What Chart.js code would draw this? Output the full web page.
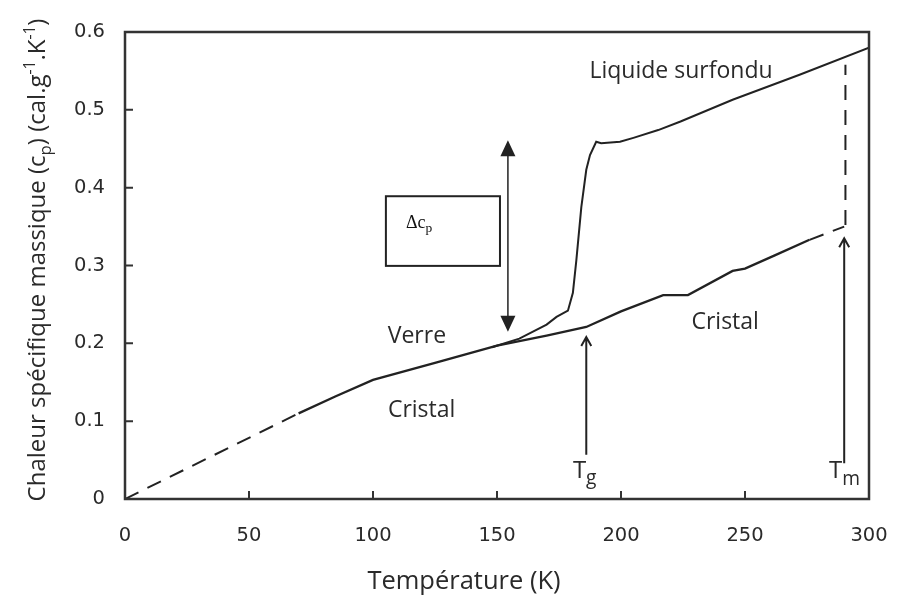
<!DOCTYPE html>
<html>
<head>
<meta charset="utf-8">
<script src="https://cdn.jsdelivr.net/npm/chart.js@4.4.1/dist/chart.umd.min.js"></script>
<style>
  body { margin: 0; background: #fff; overflow: hidden; }
</style>
</head>
<body>
<canvas id="cpChart" width="902" height="599"></canvas>
<script>
// Data (temperature in K, cp in cal/g/K)
const crystalLowT = [0, 70];
const crystalLowCp = [0, 0.110];

const crystalT = [70, 85, 100, 125, 150, 170, 186, 200, 217, 227, 245, 250, 262, 276];
const crystalCp = [0.110, 0.132, 0.153, 0.175, 0.197, 0.210, 0.221, 0.241, 0.262, 0.262, 0.293, 0.296, 0.313, 0.333];

const crystalHighT = [276, 290];
const crystalHighCp = [0.333, 0.350];

const liquidT = [148, 159, 170, 174, 178.6, 180.6, 182, 184, 186, 187.5, 190, 192, 199.6, 205, 215, 224, 245, 272, 300];
const liquidCp = [0.195, 0.206, 0.224, 0.234, 0.242, 0.265, 0.307, 0.375, 0.423, 0.442, 0.459, 0.457, 0.459, 0.464, 0.474, 0.485, 0.513, 0.545, 0.580];

const meltT = [290.5, 290.5];
const meltCp = [0.352, 0.558];

const xTicks = [0, 50, 100, 150, 200, 250, 300];
const yTicks = [0, 0.1, 0.2, 0.3, 0.4, 0.5, 0.6];

const toPoints = (xs, ys) => xs.map((x, i) => ({ x: x, y: ys[i] }));

const INK = '#222';
const TEXT = '#2a2a2a';
const SANS = '"Open Sans", "Noto Sans", sans-serif';
const TICK_FONT = { family: '"DejaVu Sans", "Liberation Sans", sans-serif', size: 19.5 };

// draws text made of pieces, some raised or lowered
function drawRich(ctx, parts, x, y, size) {
  let cx = x;
  parts.forEach(p => {
    const s = size * (p.scale || 1);
    ctx.font = `${s}px ${p.family || SANS}`;
    ctx.fillText(p.t, cx, y + (p.dy || 0) * size);
    cx += ctx.measureText(p.t).width;
  });
  return cx - x;
}

function richWidth(ctx, parts, size) {
  let w = 0;
  parts.forEach(p => {
    ctx.font = `${size * (p.scale || 1)}px ${p.family || SANS}`;
    w += ctx.measureText(p.t).width;
  });
  return w;
}

function filledHead(ctx, x, y, dir, w, h) {
  ctx.beginPath();
  ctx.moveTo(x, y);
  ctx.lineTo(x - w / 2, y + dir * h);
  ctx.lineTo(x + w / 2, y + dir * h);
  ctx.closePath();
  ctx.fill();
}

const decorations = {
  id: 'decorations',
  afterDraw(chart) {
    const ctx = chart.ctx;
    const a = chart.chartArea;
    const xs = chart.scales.x, ys = chart.scales.y;
    const px = v => xs.getPixelForValue(v);
    const py = v => ys.getPixelForValue(v);

    ctx.save();
    // frame
    ctx.strokeStyle = '#333';
    ctx.lineWidth = 2.5;
    ctx.strokeRect(a.left, a.top, a.right - a.left, a.bottom - a.top);

    // inward ticks
    ctx.lineWidth = 2;
    ctx.beginPath();
    xTicks.slice(1, -1).forEach(t => {
      ctx.moveTo(px(t), a.bottom);
      ctx.lineTo(px(t), a.bottom - 8);
    });
    yTicks.slice(1, -1).forEach(t => {
      ctx.moveTo(a.left, py(t));
      ctx.lineTo(a.left + 8, py(t));
    });
    ctx.stroke();

    // delta cp box
    ctx.strokeStyle = INK;
    ctx.lineWidth = 2;
    ctx.strokeRect(px(105.2), py(0.389), px(151.2) - px(105.2), py(0.2995) - py(0.389));
    ctx.fillStyle = '#111';
    ctx.textAlign = 'left';
    ctx.textBaseline = 'alphabetic';
    drawRich(ctx, [
      { t: '\u0394c', family: '"Liberation Serif", "DejaVu Serif", serif' },
      { t: 'p', family: '"Liberation Serif", "DejaVu Serif", serif', scale: 0.75, dy: 0.2 }
    ], px(113.3), py(0.348), 18);

    // double arrow for delta cp
    ctx.fillStyle = INK;
    ctx.strokeStyle = INK;
    ctx.lineWidth = 1.5;
    const dx = px(154.4), dTop = py(0.461), dBot = py(0.215);
    ctx.beginPath();
    ctx.moveTo(dx, dTop + 10);
    ctx.lineTo(dx, dBot - 10);
    ctx.stroke();
    filledHead(ctx, dx, dTop, 1, 15, 16);
    filledHead(ctx, dx, dBot, -1, 15, 16);

    // Tg and Tm arrows (open heads)
    [[186, 0.057, 0.208], [290, 0.046, 0.335]].forEach(([t, from, to]) => {
      const x = px(t), y0 = py(from), y1 = py(to);
      ctx.lineWidth = 2;
      ctx.beginPath();
      ctx.moveTo(x, y0);
      ctx.lineTo(x, y1 + 1);
      ctx.moveTo(x - 5, y1 + 9);
      ctx.lineTo(x, y1);
      ctx.lineTo(x + 5, y1 + 9);
      ctx.stroke();
    });

    // curve labels
    ctx.fillStyle = TEXT;
    ctx.textAlign = 'center';
    ctx.font = `23px ${SANS}`;
    ctx.fillText('Liquide surfondu', px(224.2), py(0.541));
    ctx.fillText('Verre', px(117.7), py(0.2005));
    ctx.fillText('Cristal', px(119.6), py(0.105));
    ctx.fillText('Cristal', px(242), py(0.2185));

    ctx.textAlign = 'left';
    drawRich(ctx, [{ t: 'T' }, { t: 'g', scale: 0.8, dy: 0.25 }], px(180.6), py(0.027), 24);
    drawRich(ctx, [{ t: 'T' }, { t: 'm', scale: 0.8, dy: 0.3 }], px(283.9), py(0.027), 24);

    // axis titles
    ctx.font = `25.5px ${SANS}`;
    ctx.textAlign = 'center';
    ctx.fillText('Temp\u00e9rature (K)', 464, 589);

    const yTitle = [
      { t: 'Chaleur sp\u00e9cifique massique (c' },
      { t: 'p', scale: 0.7, dy: 0.25 },
      { t: ') (cal.g' },
      { t: '-1', scale: 0.65, dy: -0.4 },
      { t: '.K' },
      { t: '-1', scale: 0.65, dy: -0.4 },
      { t: ')' }
    ];
    const ySize = 24;
    const w = richWidth(ctx, yTitle, ySize);
    ctx.translate(45, 260);
    ctx.rotate(-Math.PI / 2);
    ctx.textAlign = 'left';
    drawRich(ctx, yTitle, -w / 2, 0, ySize);
    ctx.restore();
  }
};

const lineStyle = { showLine: true, pointRadius: 0, borderColor: INK, borderWidth: 2, tension: 0, fill: false };

new Chart('cpChart', {
  type: 'scatter',
  data: {
    datasets: [
      { ...lineStyle, data: toPoints(crystalLowT, crystalLowCp), borderDash: [15, 10] },
      { ...lineStyle, data: toPoints(crystalT, crystalCp), borderWidth: 2.3 },
      { ...lineStyle, data: toPoints(crystalHighT, crystalHighCp), borderDash: [15, 10] },
      { ...lineStyle, data: toPoints(liquidT, liquidCp) },
      { ...lineStyle, data: toPoints(meltT, meltCp), borderDash: [15, 10] }
    ]
  },
  options: {
    responsive: false,
    animation: false,
    layout: { padding: { top: 32, right: 33, left: 0, bottom: 0 } },
    plugins: {
      legend: { display: false },
      tooltip: { enabled: false }
    },
    scales: {
      x: {
        type: 'linear',
        min: 0,
        max: 300,
        afterBuildTicks: s => { s.ticks = xTicks.map(v => ({ value: v })); },
        afterFit: s => { s.height = 100; },
        // hidden tick marks only push the labels down
        grid: { display: false, drawTicks: true, tickLength: 25 },
        border: { display: false },
        ticks: { padding: 0, color: TEXT, font: TICK_FONT }
      },
      y: {
        min: 0,
        max: 0.6,
        afterBuildTicks: s => { s.ticks = yTicks.map(v => ({ value: v })); },
        afterFit: s => { s.width = 125; },
        grid: { display: false, drawTicks: false },
        border: { display: false },
        ticks: {
          padding: 20,
          color: TEXT,
          font: TICK_FONT,
          callback: v => v === 0 ? '0' : v.toFixed(1)
        }
      }
    }
  },
  plugins: [decorations]
});
</script>
</body>
</html>
